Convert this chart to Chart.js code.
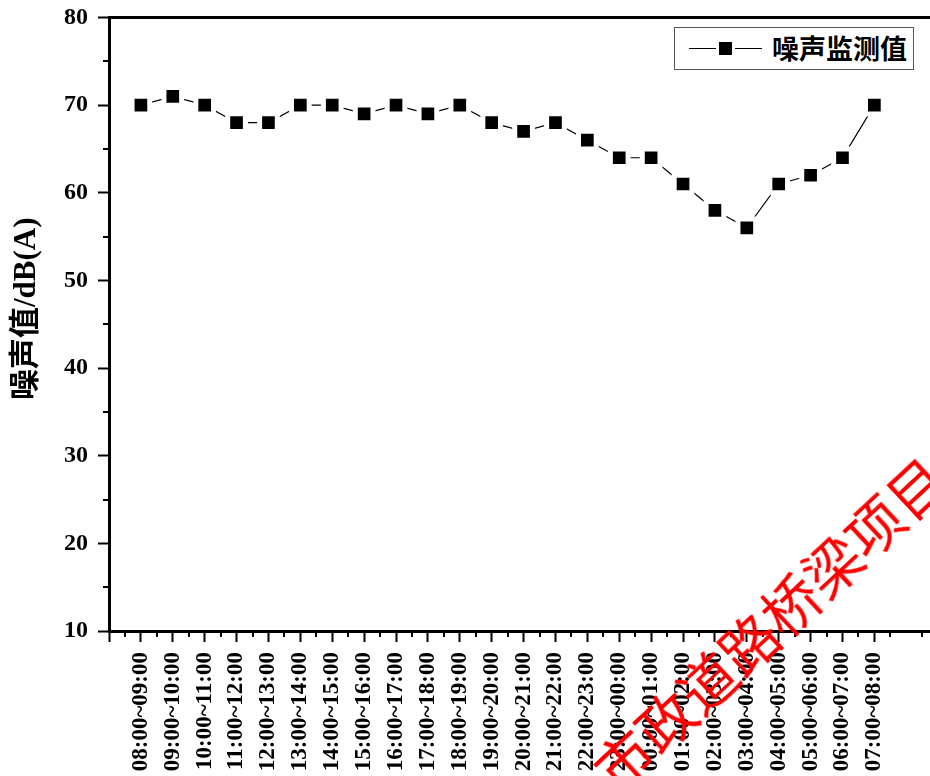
<!DOCTYPE html>
<html>
<head>
<meta charset="utf-8">
<script src="https://cdn.jsdelivr.net/npm/chart.js@4.4.0/dist/chart.umd.min.js"></script>
<style>
  body { margin: 0; background: #fff; }
  #wrap { position: relative; width: 930px; height: 776px; overflow: hidden; }
  #legenda { position: absolute; left: 674px; top: 27px; width: 240px; height: 43px;
    box-sizing: border-box; border: 1.5px solid #555; background: #fff; }
  #legenda .linha { position: absolute; left: 14px; top: 20px; width: 73px; height: 1px; background: #000; }
  #legenda .quadrado { position: absolute; left: 44px; top: 14px; width: 13px; height: 13px; background: #000;
    box-shadow: 0 0 0 3px #fff; }
  #legenda .texto { position: absolute; left: 97px; top: 2px; font: bold 27px "Noto Sans CJK SC"; color: #000; line-height: 36px; }
  #marca { position: absolute; left: 768px; top: 622px; transform: translate(-50%, -50%) rotate(-43deg);
    font: 57px "Noto Sans CJK SC"; color: #f00; white-space: nowrap; }
</style>
</head>
<body>
<div id="wrap">
  <canvas id="grafico" width="948" height="776"></canvas>
  <div id="legenda"><div class="linha"></div><div class="quadrado"></div><div class="texto">噪声监测值</div></div>
  <div id="marca">市政道路桥梁项目</div>
</div>
<script>
const periodos = [
  "08:00~09:00", "09:00~10:00", "10:00~11:00", "11:00~12:00", "12:00~13:00", "13:00~14:00",
  "14:00~15:00", "15:00~16:00", "16:00~17:00", "17:00~18:00", "18:00~19:00", "19:00~20:00",
  "20:00~21:00", "21:00~22:00", "22:00~23:00", "23:00~00:00", "00:00~01:00", "01:00~02:00",
  "02:00~03:00", "03:00~04:00", "04:00~05:00", "05:00~06:00", "06:00~07:00", "07:00~08:00"
];
const ruido = [70, 71, 70, 68, 68, 70, 70, 69, 70, 69, 70, 68, 67, 68, 66, 64, 64, 61, 58, 56, 61, 62, 64, 70];
const yMin = 10;
const yMax = 80;
const yPasso = 10;

// ticks menores e linha de cima (estilo Origin)
const ticksMenores = {
  id: 'ticksMenores',
  afterDraw(chart) {
    const { ctx, chartArea, scales: { x, y } } = chart;
    ctx.save();
    ctx.strokeStyle = '#000';
    ctx.lineWidth = 2;
    ctx.beginPath();
    for (let v = Math.ceil(x.min) + 0.5; v < x.max; v += 1) {
      const px = Math.round(x.getPixelForValue(v));
      ctx.moveTo(px, chartArea.bottom);
      ctx.lineTo(px, chartArea.bottom + 6);
    }
    for (let v = yMin + yPasso / 2; v < yMax; v += yPasso) {
      const py = Math.round(y.getPixelForValue(v));
      ctx.moveTo(chartArea.left, py);
      ctx.lineTo(chartArea.left - 6, py);
    }
    ctx.stroke();
    ctx.lineWidth = 3;
    ctx.beginPath();
    ctx.moveTo(chartArea.left, chartArea.top);
    ctx.lineTo(chart.width, chartArea.top);
    ctx.stroke();
    ctx.restore();
  }
};

new Chart(document.getElementById('grafico'), {
  type: 'line',
  data: {
    datasets: [{
      label: '噪声监测值',
      data: ruido.map((v, i) => ({ x: i, y: v })),
      borderColor: '#000',
      borderWidth: 1.2,
      tension: 0,
      pointStyle: 'rect',
      pointRadius: 12.5,
      pointBackgroundColor: '#000',
      pointBorderColor: '#fff',
      pointBorderWidth: 5
    }]
  },
  options: {
    responsive: false,
    animation: false,
    layout: { padding: { top: 16, right: 0, left: 0, bottom: 0 } },
    plugins: { legend: { display: false }, tooltip: { enabled: false } },
    scales: {
      x: {
        type: 'linear',
        min: -1,
        max: 24.76,
        afterBuildTicks: s => { s.ticks = s.ticks.filter(t => Number.isInteger(t.value)); },
        afterFit: s => { s.height = 145; s.paddingLeft = 0; s.paddingRight = 0; },
        ticks: {
          stepSize: 1,
          autoSkip: false,
          minRotation: 90,
          maxRotation: 90,
          padding: 10,
          color: '#000',
          font: { family: 'Liberation Serif', size: 23, weight: 'bold' },
          callback: v => periodos[v] ?? ''
        },
        grid: { drawOnChartArea: false, drawTicks: true, tickLength: 11, tickWidth: 2, tickColor: '#000' },
        border: { display: true, width: 3, color: '#000' }
      },
      y: {
        min: yMin,
        max: yMax,
        afterFit: s => { s.width = 109; s.paddingTop = 0; s.paddingBottom = 0; },
        ticks: {
          stepSize: yPasso,
          padding: 10,
          color: '#000',
          font: { family: 'Liberation Serif', size: 24, weight: 'bold' }
        },
        grid: { drawOnChartArea: false, drawTicks: true, tickLength: 11, tickWidth: 2, tickColor: '#000' },
        border: { display: true, width: 3, color: '#000' },
        title: {
          display: true,
          text: '    噪声值/dB(A)',
          color: '#000',
          padding: { top: 8, bottom: 0 },
          font: { family: '"Liberation Serif", "Noto Sans CJK SC"', size: 31, weight: 'bold' }
        }
      }
    }
  },
  plugins: [ticksMenores]
});
</script>
</body>
</html>
